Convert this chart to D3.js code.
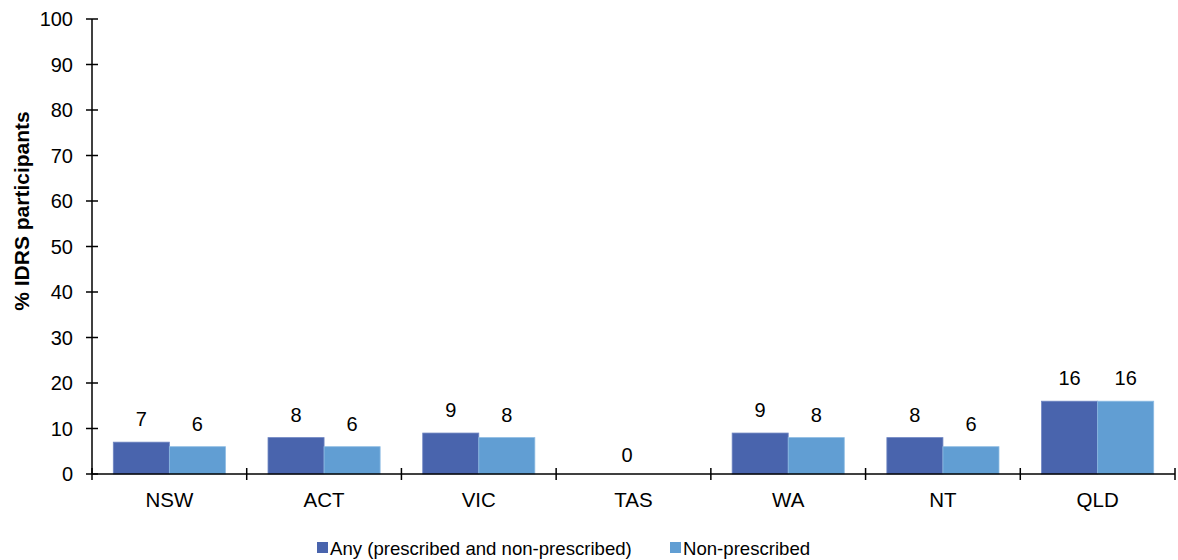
<!DOCTYPE html>
<html><head><meta charset="utf-8">
<script src="https://cdn.jsdelivr.net/npm/d3@7"></script>
<style>body{margin:0;background:#fff;} text{font-family:"Liberation Sans",Arial,sans-serif;}</style>
</head><body>
<svg id="chart" width="1178" height="560"></svg>
<script>
const categories = ["NSW","ACT","VIC","TAS","WA","NT","QLD"];
const seriesNames = ["Any (prescribed and non-prescribed)","Non-prescribed"];
const anyValues = [7,8,9,null,9,8,16];
const nonPrescribedValues = [6,6,8,null,8,6,16];
const tasLabel = "0";
const yTicks = [0,10,20,30,40,50,60,70,80,90,100];
const colors = ["#4964AD","#619ED3"];

(function(){
const svg = d3.select("#chart");
const mLeft = 92, mRight = 1175, mTop = 19, mBottom = 474;
const x0 = d3.scaleBand().domain(categories).range([mLeft, mRight]).padding(0);
const x1 = d3.scaleBand().domain([0,1]).range([21.3, x0.bandwidth()-21.3]).padding(0);
const y = d3.scaleLinear().domain([0,100]).range([mBottom, mTop]);

const series = [anyValues, nonPrescribedValues];

series.forEach((vals, si) => {
  const data = categories.map((c,i)=>({c, v: vals[i]})).filter(d=>d.v!==null);
  svg.append("g").selectAll("rect").data(data)
    .join("rect")
    .attr("x", d => x0(d.c) + x1(si))
    .attr("y", d => y(d.v))
    .attr("width", x1.bandwidth())
    .attr("height", d => y(0) - y(d.v))
    .attr("fill", colors[si])
    .attr("stroke", si===1 ? "#8DBBE3" : "#6F86C2")
    .attr("stroke-width", 0.8);
  svg.append("g").selectAll("text").data(data)
    .join("text")
    .attr("x", d => x0(d.c) + x1(si) + x1.bandwidth()/2)
    .attr("y", d => y(d.v) - 16)
    .attr("text-anchor","middle")
    .attr("font-size", 20)
    .attr("fill","#000")
    .text(d => d.v);
});
svg.append("text")
  .attr("x", x0("TAS") + x0.bandwidth()/2 - 6.5)
  .attr("y", y(0) - 12.5)
  .attr("text-anchor","middle").attr("font-size",20).text(tasLabel);

const yAxis = svg.append("g").attr("transform", `translate(${mLeft},0)`);
yAxis.append("line").attr("x1",0).attr("x2",0).attr("y1",y(100)).attr("y2",y(0)).attr("stroke","#000").attr("stroke-width",1.5);
yAxis.selectAll("line.t").data(yTicks).join("line").attr("class","t")
  .attr("x1",-6).attr("x2",6).attr("y1",d=>y(d)).attr("y2",d=>y(d)).attr("stroke","#000").attr("stroke-width",1.5);
yAxis.selectAll("text").data(yTicks).join("text")
  .attr("x",-19).attr("y",d=>y(d)).attr("dy","0.36em").attr("text-anchor","end").attr("font-size",20).text(d=>d);

const xAxis = svg.append("g");
xAxis.append("line").attr("x1",mLeft).attr("x2",mRight).attr("y1",y(0)).attr("y2",y(0)).attr("stroke","#000").attr("stroke-width",1.5);
const bounds = categories.map(c=>x0(c)).concat([x0(categories[categories.length-1])+x0.bandwidth()]);
xAxis.selectAll("line.t").data(bounds).join("line").attr("class","t")
  .attr("x1",d=>d).attr("x2",d=>d).attr("y1",y(0)-6).attr("y2",y(0)+6).attr("stroke","#000").attr("stroke-width",1.5);
xAxis.selectAll("text").data(categories).join("text")
  .attr("x",d=>x0(d)+x0.bandwidth()/2).attr("y",507).attr("text-anchor","middle").attr("font-size",20.5).text(d=>d);

svg.append("text").attr("transform","translate(29,211) rotate(-90)")
  .attr("text-anchor","middle").attr("font-size",21).attr("font-weight","bold").text("% IDRS participants");

const legendX = [317, 670];
seriesNames.forEach((n,i)=>{
  svg.append("rect").attr("x",legendX[i]).attr("y",542).attr("width",11).attr("height",11).attr("fill",colors[i]);
  svg.append("text").attr("x",legendX[i]+13).attr("y",555).attr("font-size",18.6).text(n);
});
})();
</script>
</body></html>
